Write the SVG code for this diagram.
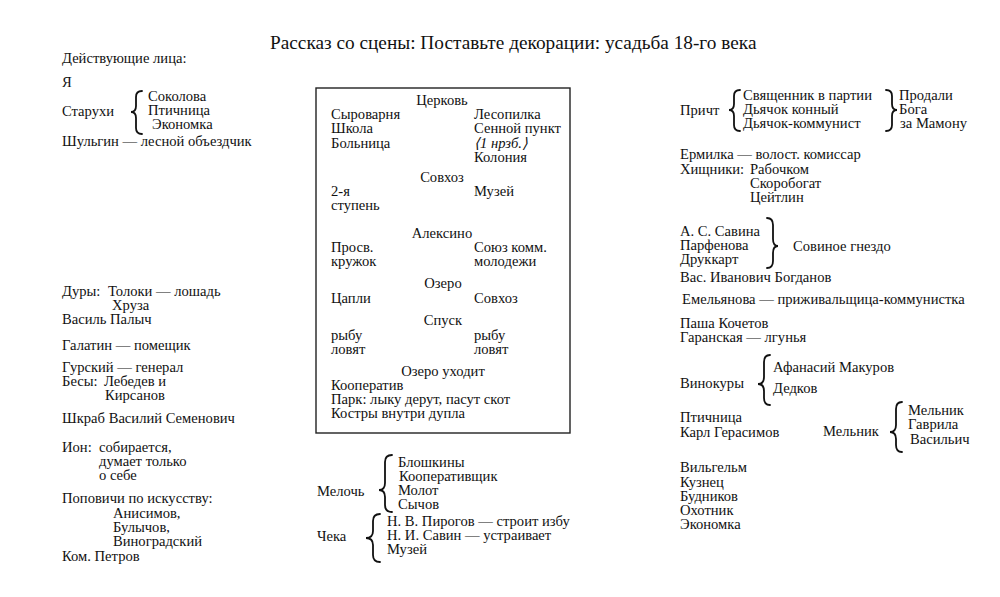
<svg xmlns="http://www.w3.org/2000/svg" width="1000" height="597" viewBox="0 0 1000 597">
<style>
text{font-family:"Liberation Serif","Times New Roman",serif;font-size:14.6px;fill:#111}
.t{font-size:19.3px}
.c{text-anchor:middle}
.i{font-style:italic}
.br{fill:none;stroke:#111;stroke-width:1.8;stroke-linecap:round}
.box{fill:none;stroke:#222;stroke-width:1.4}
</style>
<rect width="1000" height="597" fill="#fff"/>
<g id="title"><text class="t" x="270" y="49">Рассказ со сцены: Поставьте декорации: усадьба 18-го века</text></g>

<g id="connectors">
<path class="br" d="M142,91 Q136,91 136,97 L136,106 Q136,112 131,112 Q136,112 136,118 L136,128 Q136,134 142,134"/>
<path class="br" d="M392,455 Q385,455 385,462 L385,483 Q385,490 379,490 Q385,490 385,497 L385,505 Q385,512 392,512"/>
<path class="br" d="M380,514 Q373,514 373,521 L373,531 Q373,538 366,538 Q373,538 373,545 L373,555 Q373,562 380,562"/>
<path class="br" d="M740,90 Q734,90 734,96 L734,104 Q734,110 729,110 Q734,110 734,116 L734,125 Q734,131 740,131"/>
<path class="br" d="M886,90 Q892,90 892,96 L892,104 Q892,110 897,110 Q892,110 892,116 L892,125 Q892,131 886,131"/>
<path class="br" d="M767,218 Q773,218 773,225 L773,239 Q773,246 778,246 Q773,246 773,253 L773,261 Q773,268 767,268"/>
<path class="br" d="M770,355 Q764,355 764,362 L764,377 Q764,384 758,384 Q764,384 764,391 L764,398 Q764,405 770,405"/>
<path class="br" d="M902,402 Q896,402 896,409 L896,425 Q896,432 890,432 Q896,432 896,439 L896,445 Q896,452 902,452"/>
</g>

<g id="cast-heading"><text x="62" y="63">Действующие лица:</text></g>
<g id="ya"><text x="62" y="87">Я</text></g>
<g id="staruhi">
<text x="62" y="116">Старухи</text>
<text x="148" y="101">Соколова</text>
<text x="148" y="115">Птичница</text>
<text x="152" y="129">Экономка</text>
</g>
<g id="shulgin"><text x="62" y="146">Шульгин — лесной объездчик</text></g>

<g id="dury">
<text x="62" y="296">Дуры:</text>
<text x="108" y="296">Толоки — лошадь</text>
<text x="112" y="310">Хруза</text>
<text x="62" y="324">Василь Палыч</text>
</g>
<g id="galatin"><text x="62" y="350">Галатин — помещик</text></g>
<g id="gursky">
<text x="62" y="372">Гурский — генерал</text>
<text x="62" y="386">Бесы:</text>
<text x="104" y="386">Лебедев и</text>
<text x="105" y="400">Кирсанов</text>
</g>
<g id="shkrab"><text x="62" y="423">Шкраб Василий Семенович</text></g>
<g id="ion">
<text x="62" y="452">Ион:</text>
<text x="99" y="452">собирается,</text>
<text x="99" y="466">думает только</text>
<text x="99" y="480">о себе</text>
</g>
<g id="popovichi">
<text x="62" y="503">Поповичи по искусству:</text>
<text x="113" y="518">Анисимов,</text>
<text x="113" y="532">Булычов,</text>
<text x="113" y="546">Виноградский</text>
<text x="62" y="561">Ком. Петров</text>
</g>

<g id="scene-box">
<rect class="box" x="316" y="88" width="254" height="345"/>
<text class="c" x="442" y="105">Церковь</text>
<text x="331" y="119">Сыроварня</text>
<text x="474" y="119">Лесопилка</text>
<text x="331" y="133">Школа</text>
<text x="474" y="133">Сенной пункт</text>
<text x="331" y="148">Больница</text>
<text class="i" x="474" y="148">⟨1 нрзб.⟩</text>
<text x="474" y="162">Колония</text>
<text class="c" x="442" y="182">Совхоз</text>
<text x="331" y="196">2-я</text>
<text x="474" y="196">Музей</text>
<text x="331" y="210">ступень</text>
<text class="c" x="442" y="238">Алексино</text>
<text x="331" y="252">Просв.</text>
<text x="474" y="252">Союз комм.</text>
<text x="331" y="266">кружок</text>
<text x="474" y="266">молодежи</text>
<text class="c" x="443" y="288">Озеро</text>
<text x="331" y="303">Цапли</text>
<text x="474" y="303">Совхоз</text>
<text class="c" x="443" y="325">Спуск</text>
<text x="331" y="340">рыбу</text>
<text x="474" y="340">рыбу</text>
<text x="331" y="354">ловят</text>
<text x="474" y="354">ловят</text>
<text class="c" x="443" y="376">Озеро уходит</text>
<text x="331" y="390">Кооператив</text>
<text x="331" y="404">Парк: лыку дерут, пасут скот</text>
<text x="331" y="418">Костры внутри дупла</text>
</g>

<g id="meloch">
<text x="317" y="496">Мелочь</text>
<text x="398" y="467">Блошкины</text>
<text x="399" y="481">Кооперативщик</text>
<text x="398" y="495">Молот</text>
<text x="398" y="509">Сычов</text>
</g>
<g id="cheka">
<text x="317" y="541">Чека</text>
<text x="387" y="526">Н. В. Пирогов — строит избу</text>
<text x="387" y="540">Н. И. Савин — устраивает</text>
<text x="387" y="554">Музей</text>
</g>

<g id="pricht">
<text x="680" y="115">Причт</text>
<text x="743" y="100">Священник в партии</text>
<text x="743" y="114">Дьячок конный</text>
<text x="743" y="128">Дьячок-коммунист</text>
<text x="899" y="100">Продали</text>
<text x="899" y="114">Бога</text>
<text x="900" y="128">за Мамону</text>
</g>
<g id="ermilka">
<text x="680" y="159">Ермилка — волост. комиссар</text>
<text x="680" y="174">Хищники:</text>
<text x="750" y="174">Рабочком</text>
<text x="750" y="188">Скоробогат</text>
<text x="750" y="202">Цейтлин</text>
</g>
<g id="sovinoe">
<text x="680" y="236">А. С. Савина</text>
<text x="680" y="250">Парфенова</text>
<text x="680" y="264">Друккарт</text>
<text x="793" y="251">Совиное гнездо</text>
<text x="680" y="282">Вас. Иванович Богданов</text>
</g>
<g id="emelyanova"><text x="682" y="304">Емельянова — приживальщица-коммунистка</text></g>
<g id="pasha">
<text x="680" y="328">Паша Кочетов</text>
<text x="680" y="342">Гаранская — лгунья</text>
</g>
<g id="vinokury">
<text x="680" y="388">Винокуры</text>
<text x="773" y="372">Афанасий Макуров</text>
<text x="773" y="393">Дедков</text>
</g>
<g id="ptichnitsa">
<text x="680" y="422">Птичница</text>
<text x="680" y="437">Карл Герасимов</text>
</g>
<g id="melnik">
<text x="823" y="436">Мельник</text>
<text x="908" y="415">Мельник</text>
<text x="908" y="429">Гаврила</text>
<text x="910" y="444">Васильич</text>
</g>
<g id="wilhelm">
<text x="680" y="472">Вильгельм</text>
<text x="680" y="487">Кузнец</text>
<text x="680" y="501">Будников</text>
<text x="680" y="515">Охотник</text>
<text x="680" y="529">Экономка</text>
</g>
</svg>
